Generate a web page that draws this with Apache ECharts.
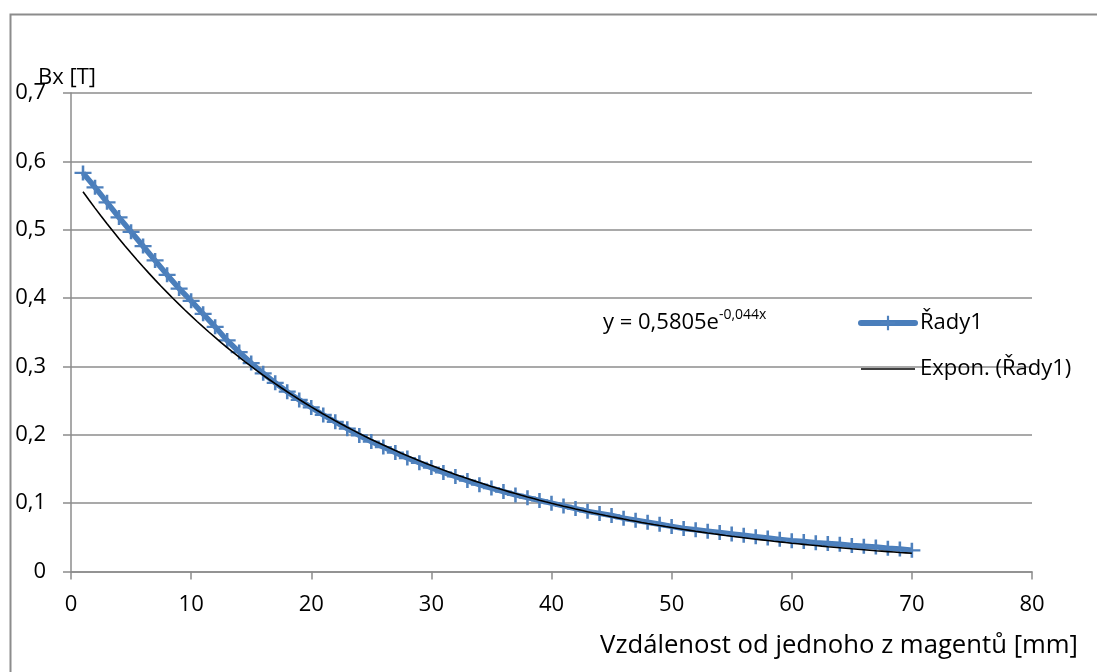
<!DOCTYPE html>
<html>
<head>
<meta charset="utf-8">
<script src="https://cdn.jsdelivr.net/npm/echarts@6/dist/echarts.min.js"></script>
<style>
html,body{margin:0;padding:0;background:#fff;}
#c{width:1097px;height:672px;}
</style>
</head>
<body>
<div id="c"></div>
<script>
// Distance [mm]
var xValues = [1,2,3,4,5,6,7,8,9,10,11,12,13,14,15,16,17,18,19,20,21,22,23,24,25,26,27,28,29,30,31,32,33,34,35,36,37,38,39,40,41,42,43,44,45,46,47,48,49,50,51,52,53,54,55,56,57,58,59,60,61,62,63,64,65,66,67,68,69,70];
// Bx [T] (Řady1)
var bxValues = [0.583,0.562,0.540,0.518,0.497,0.476,0.455,0.434,0.414,0.396,0.377,0.358,0.338,0.321,0.305,0.290,0.276,0.263,0.251,0.240,0.229,0.219,0.209,0.199,0.190,0.182,0.174,0.166,0.159,0.152,0.145,0.139,0.133,0.127,0.122,0.117,0.112,0.108,0.104,0.100,0.096,0.092,0.088,0.085,0.082,0.078,0.075,0.072,0.069,0.066,0.063,0.061,0.059,0.057,0.055,0.053,0.051,0.049,0.047,0.045,0.044,0.042,0.041,0.040,0.038,0.037,0.036,0.034,0.033,0.031];
// Exponential trendline coefficients (as shown on the chart)
var trendA = 0.5805;
var trendB = -0.044;
var xTicks = [0,10,20,30,40,50,60,70,80];
var yTicks = [0,0.1,0.2,0.3,0.4,0.5,0.6,0.7];

var seriesData = xValues.map(function(x,i){return [x,bxValues[i]];});
var trendData = [];
for (var k = 0; k < xValues.length; k++) {
  var x0 = xValues[k];
  trendData.push([x0, trendA*Math.exp(trendB*x0)]);
  if (k < xValues.length-1) {
    var xm = (x0 + xValues[k+1]) / 2;
    trendData.push([xm, trendA*Math.exp(trendB*xm)]);
  }
}

var FONT = 'Open Sans';
var plusPath = 'path://M8.5,0 H11.5 V8.5 H20 V11.5 H11.5 V20 H8.5 V11.5 H0 V8.5 H8.5 Z';

var chart = echarts.init(document.getElementById('c'), null, {renderer:'canvas'});
chart.setOption({
  backgroundColor:'#fff',
  animation:false,
  grid:{left:71, right:65, top:93, bottom:100.5, containLabel:false},
  xAxis:{
    type:'value', min:xTicks[0], max:xTicks[xTicks.length-1], interval:10,
    axisLine:{show:true, lineStyle:{color:'#8c8c8c', width:1.5}},
    axisTick:{show:true, inside:false, length:8, lineStyle:{color:'#8c8c8c', width:1.5}},
    splitLine:{show:false},
    axisLabel:{color:'#000', fontFamily:FONT, fontSize:22, margin:22}
  },
  yAxis:{
    type:'value', min:yTicks[0], max:yTicks[yTicks.length-1], interval:0.1,
    axisLine:{show:true, lineStyle:{color:'#8c8c8c', width:1.5}},
    axisTick:{show:true, inside:false, length:8, lineStyle:{color:'#8c8c8c', width:1.5}},
    splitLine:{show:true, lineStyle:{color:'#8c8c8c', width:1.5}},
    axisLabel:{color:'#000', fontFamily:FONT, fontSize:22, margin:25,
      formatter:function(v){ return v===0 ? '0' : v.toFixed(1).replace('.',','); }}
  },
  legend:{
    orient:'vertical', left:858, top:312, padding:0, itemWidth:54, itemHeight:18, itemGap:24,
    textStyle:{fontFamily:FONT, fontSize:22, color:'#000', padding:[0,0,0,0]},
    data:[
      {name:'Řady1', lineStyle:{width:6, color:'#4a7ebb', cap:'round'}},
      {name:'Expon. (Řady1)', itemStyle:{opacity:0}, lineStyle:{width:1.6, color:'#000'}}
    ]
  },
  series:[
    {
      name:'Řady1', type:'line', data:seriesData, z:2,
      symbol:plusPath, symbolSize:[17,15], showSymbol:true,
      lineStyle:{color:'#4a7ebb', width:5.5},
      itemStyle:{color:'#4f81bd'},
      emphasis:{disabled:true}
    },
    {
      name:'Expon. (Řady1)', type:'line', data:trendData, z:3,
      symbol:'none', smooth:false,
      lineStyle:{color:'#000', width:1.6},
      itemStyle:{color:'#000'},
      emphasis:{disabled:true}
    }
  ],
  graphic:[
    {type:'rect', left:8, top:12, shape:{x:0,y:0,width:1200,height:700}, style:{fill:'none', stroke:'#8c8c8c', lineWidth:2}, z:-1, silent:true},
    {type:'text', left:38, top:67, style:{text:'Bx [T]', fontFamily:FONT, fontSize:22, fill:'#000'}},
    {type:'text', right:19, top:633, style:{text:'Vzdálenost od jednoho z magentů [mm]', fontFamily:FONT, fontSize:25.7, fill:'#000'}},
    {type:'text', left:603, top:308, style:{
      text:'{m|y = 0,5805e}{s|-0,044x}',
      rich:{
        m:{fontFamily:FONT, fontSize:22, fill:'#000', verticalAlign:'bottom'},
        s:{fontFamily:FONT, fontSize:14, fill:'#000', verticalAlign:'top', padding:[0,0,12,0]}
      }
    }}
  ]
});
</script>
</body>
</html>
